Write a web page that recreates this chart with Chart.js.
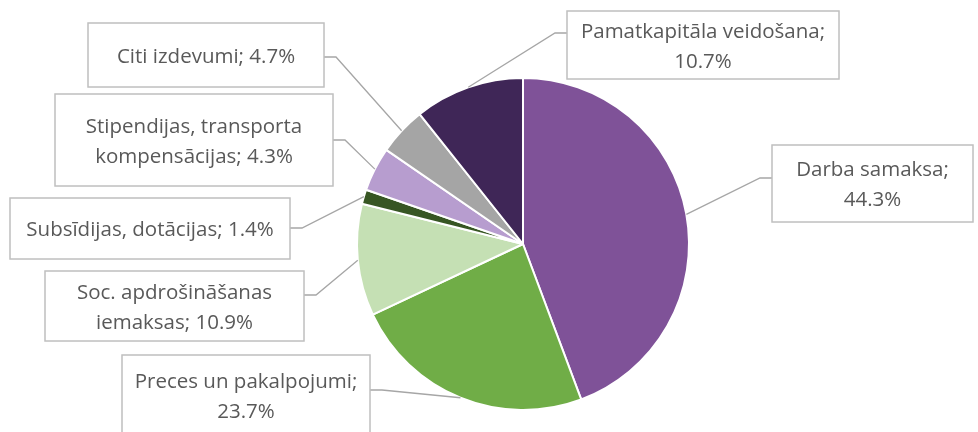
<!DOCTYPE html>
<html>
<head>
<meta charset="utf-8">
<script src="https://cdn.jsdelivr.net/npm/chart.js@4"></script>
<style>
html,body{margin:0;padding:0;background:#fff;}
#wrap{width:978px;height:432px;position:relative;}
</style>
</head>
<body>
<div id="wrap"><canvas id="c" width="978" height="432"></canvas></div>
<script>
// ---- data ----
const categories = [
  "Darba samaksa",
  "Preces un pakalpojumi",
  "Soc. apdrošināšanas iemaksas",
  "Subsīdijas, dotācijas",
  "Stipendijas, transporta kompensācijas",
  "Citi izdevumi",
  "Pamatkapitāla veidošana"
];
const values = [44.3, 23.7, 10.9, 1.4, 4.3, 4.7, 10.7];

// ---- styles ----
const colors = ["#7F5298", "#70AD47", "#C5E0B4", "#375623", "#B79DCF", "#A5A5A5", "#3F2657"];
const FONT = '20.5px "Open Sans", sans-serif';
const TEXT_COLOR = "#595959";
const LINE_H = 30;
const TEXT_DY = 2;

// ---- label box layout (x, y, w, h, side the leader attaches to, leader y) ----
const boxLayout = [
  {x: 772, y: 145, w: 201, h: 77, side: "left",  ly: 178},
  {x: 122, y: 355, w: 248, h: 80, side: "right", ly: 390},
  {x: 45,  y: 271, w: 259, h: 70, side: "right", ly: 295},
  {x: 10,  y: 198, w: 280, h: 61, side: "right", ly: 228},
  {x: 55,  y: 94,  w: 278, h: 92, side: "right", ly: 140},
  {x: 88,  y: 23,  w: 236, h: 64, side: "right", ly: 57},
  {x: 567, y: 11,  w: 272, h: 68, side: "left",  ly: 33}
];

function wrapText(ctx, text, maxW) {
  const words = text.split(" ");
  const lines = [];
  let cur = "";
  for (const w of words) {
    const t = cur ? cur + " " + w : w;
    if (cur && ctx.measureText(t).width > maxW) { lines.push(cur); cur = w; }
    else cur = t;
  }
  if (cur) lines.push(cur);
  return lines;
}

const labelPlugin = {
  id: "boxLabels",
  afterDatasetsDraw(chart) {
    const ctx = chart.ctx;
    const meta = chart.getDatasetMeta(0);
    ctx.save();
    ctx.font = FONT;
    meta.data.forEach((arc, i) => {
      const b = boxLayout[i];
      const p = arc.getProps(["x", "y", "startAngle", "endAngle", "outerRadius"], true);
      const mid = (p.startAngle + p.endAngle) / 2;
      const ax = p.x + Math.cos(mid) * p.outerRadius;
      const ay = p.y + Math.sin(mid) * p.outerRadius;
      const edgeX = b.side === "left" ? b.x : b.x + b.w;
      const elbowX = b.side === "left" ? edgeX - 12 : edgeX + 12;
      // leader line
      ctx.strokeStyle = "#A6A6A6";
      ctx.lineWidth = 1.3;
      ctx.beginPath();
      ctx.moveTo(ax, ay);
      ctx.lineTo(elbowX, b.ly);
      ctx.lineTo(edgeX, b.ly);
      ctx.stroke();
      // box
      ctx.fillStyle = "#FFFFFF";
      ctx.fillRect(b.x, b.y, b.w, b.h);
      ctx.strokeStyle = "#BFBFBF";
      ctx.lineWidth = 1.5;
      ctx.strokeRect(b.x, b.y, b.w, b.h);
      // text
      const text = categories[i] + "; " + values[i].toFixed(1) + "%";
      const lines = wrapText(ctx, text, b.w - 10);
      ctx.fillStyle = TEXT_COLOR;
      ctx.textAlign = "center";
      ctx.textBaseline = "middle";
      const cy = b.y + b.h / 2 + TEXT_DY;
      const y0 = cy - (lines.length - 1) * LINE_H / 2;
      lines.forEach((ln, k) => ctx.fillText(ln, b.x + b.w / 2, y0 + k * LINE_H));
    });
    ctx.restore();
  }
};

new Chart(document.getElementById("c"), {
  type: "pie",
  data: {
    labels: categories,
    datasets: [{
      data: values,
      backgroundColor: colors,
      borderColor: "#FFFFFF",
      borderWidth: 2
    }]
  },
  options: {
    responsive: false,
    animation: false,
    layout: {padding: {left: 356, right: 288, top: 77, bottom: 21}},
    plugins: {legend: {display: false}, tooltip: {enabled: false}}
  },
  plugins: [labelPlugin]
});
</script>
</body>
</html>
